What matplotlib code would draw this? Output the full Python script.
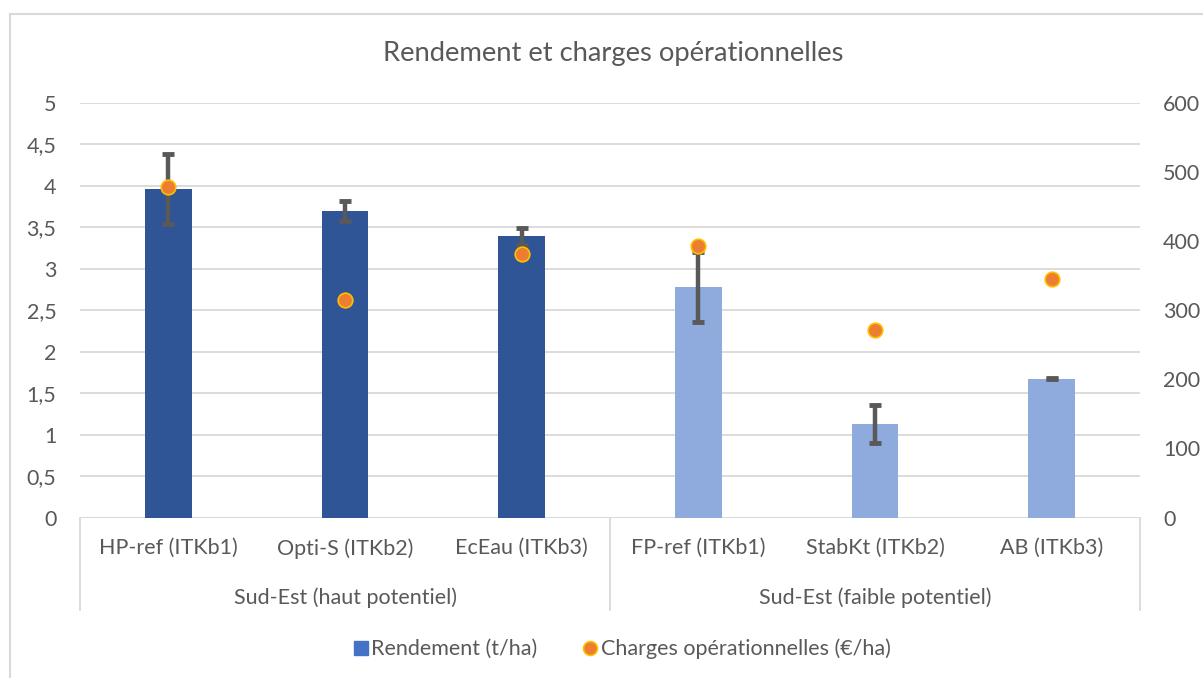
import matplotlib
matplotlib.use("Agg")
import matplotlib.pyplot as plt
from matplotlib.lines import Line2D
from matplotlib.ticker import FuncFormatter

plt.rcParams['font.family'] = ['Lato', 'DejaVu Sans']

categories = ["HP-ref (ITKb1)", "Opti-S (ITKb2)", "EcEau (ITKb3)",
              "FP-ref (ITKb1)", "StabKt (ITKb2)", "AB (ITKb3)"]
groups = ["Sud-Est (haut potentiel)", "Sud-Est (faible potentiel)"]
rendement = [3.96, 3.70, 3.39, 2.78, 1.13, 1.675]
rendement_err = [0.42, 0.12, 0.10, 0.42, 0.23, 0.01]
charges = [478, 315, 381, 393, 271, 345]

TXT = "#595959"
GRID = "#D9D9D9"
FS = 15.5
bar_colors = ["#2F5597"] * 3 + ["#8FAADC"] * 3

W, H = 1203, 678
fig = plt.figure(figsize=(W / 100, H / 100), dpi=100)
ax = fig.add_axes([80 / W, 1 - 517.5 / H, 1060 / W, (517.5 - 102.7) / H])

x = list(range(len(categories)))
ax.bar(x, rendement, width=0.266, color=bar_colors, zorder=2)
ax.errorbar(x, rendement, yerr=rendement_err, fmt='none', ecolor="#595959",
            elinewidth=3.2, capsize=4.4, capthick=3.5, zorder=3)

ax.set_xlim(-0.5, len(categories) - 0.5)
ax.set_ylim(0, 5)
ax.set_yticks([i * 0.5 for i in range(11)])
ax.yaxis.set_major_formatter(FuncFormatter(lambda v, p: (f"{v:g}").replace('.', ',')))
ax.yaxis.grid(True, color=GRID, linewidth=1.3, zorder=0)
ax.set_axisbelow(True)
for s in ax.spines.values():
    s.set_visible(False)
ax.tick_params(axis='y', length=0, pad=17, labelsize=FS, labelcolor=TXT)
ax.set_xticks(x)
ax.set_xticklabels(categories)
ax.tick_params(axis='x', length=0, pad=15, labelsize=FS, labelcolor=TXT)
ax.axhline(0, color=GRID, linewidth=1.3, zorder=1)

ax2 = ax.twinx()
ax2.set_ylim(0, 600)
ax2.set_yticks(range(0, 601, 100))
ax2.tick_params(axis='y', length=0, pad=16.5, labelsize=FS, labelcolor=TXT)
for s in ax2.spines.values():
    s.set_visible(False)
ax2.plot(x, charges, linestyle='none', marker='o', markersize=10.5,
         markerfacecolor="#ED7D31", markeredgecolor="#FFC000",
         markeredgewidth=1.2, zorder=5)

# category separators (multi-level axis)
axh = (517.5 - 102.7) / H
y_bot = -(610 - 517.5) / H / axh
for xs in [0.0, 0.5, 1.0]:
    ax.add_line(Line2D([xs, xs], [0, y_bot], transform=ax.transAxes,
                       color=GRID, linewidth=1.3, clip_on=False))

ytr = ax.get_xaxis_transform()
y_grp = -(598 - 517.5) / H / axh
for i, g in enumerate(groups):
    ax.text(1 + 3 * i, y_grp, g, transform=ytr, ha='center', va='center',
            fontsize=FS, color=TXT)

fig.text(613 / W, 1 - 53 / H, "Rendement et charges opérationnelles",
         ha='center', va='center', fontsize=19.7, color=TXT)

handles = [
    Line2D([], [], linestyle='none', marker='s', markersize=10,
           markerfacecolor="#4472C4", markeredgecolor="#4472C4"),
    Line2D([], [], linestyle='none', marker='o', markersize=10,
           markerfacecolor="#ED7D31", markeredgecolor="#FFC000",
           markeredgewidth=1.2),
]
fig.legend(handles, ["Rendement (t/ha)", "Charges opérationnelles (€/ha)"],
           loc='center', bbox_to_anchor=(621 / W, 1 - 649 / H), ncol=2,
           frameon=False, fontsize=FS, labelcolor=TXT,
           handletextpad=0.05, columnspacing=2.0, handlelength=0.9)

# outer chart border
fig.add_artist(Line2D([10 / W, 10 / W], [0, 1 - 14 / H], transform=fig.transFigure,
                      color=GRID, linewidth=1.5))
fig.add_artist(Line2D([10 / W, 1], [1 - 14 / H, 1 - 14 / H], transform=fig.transFigure,
                      color=GRID, linewidth=1.5))

fig.savefig("out.png", dpi=100, facecolor="white")
